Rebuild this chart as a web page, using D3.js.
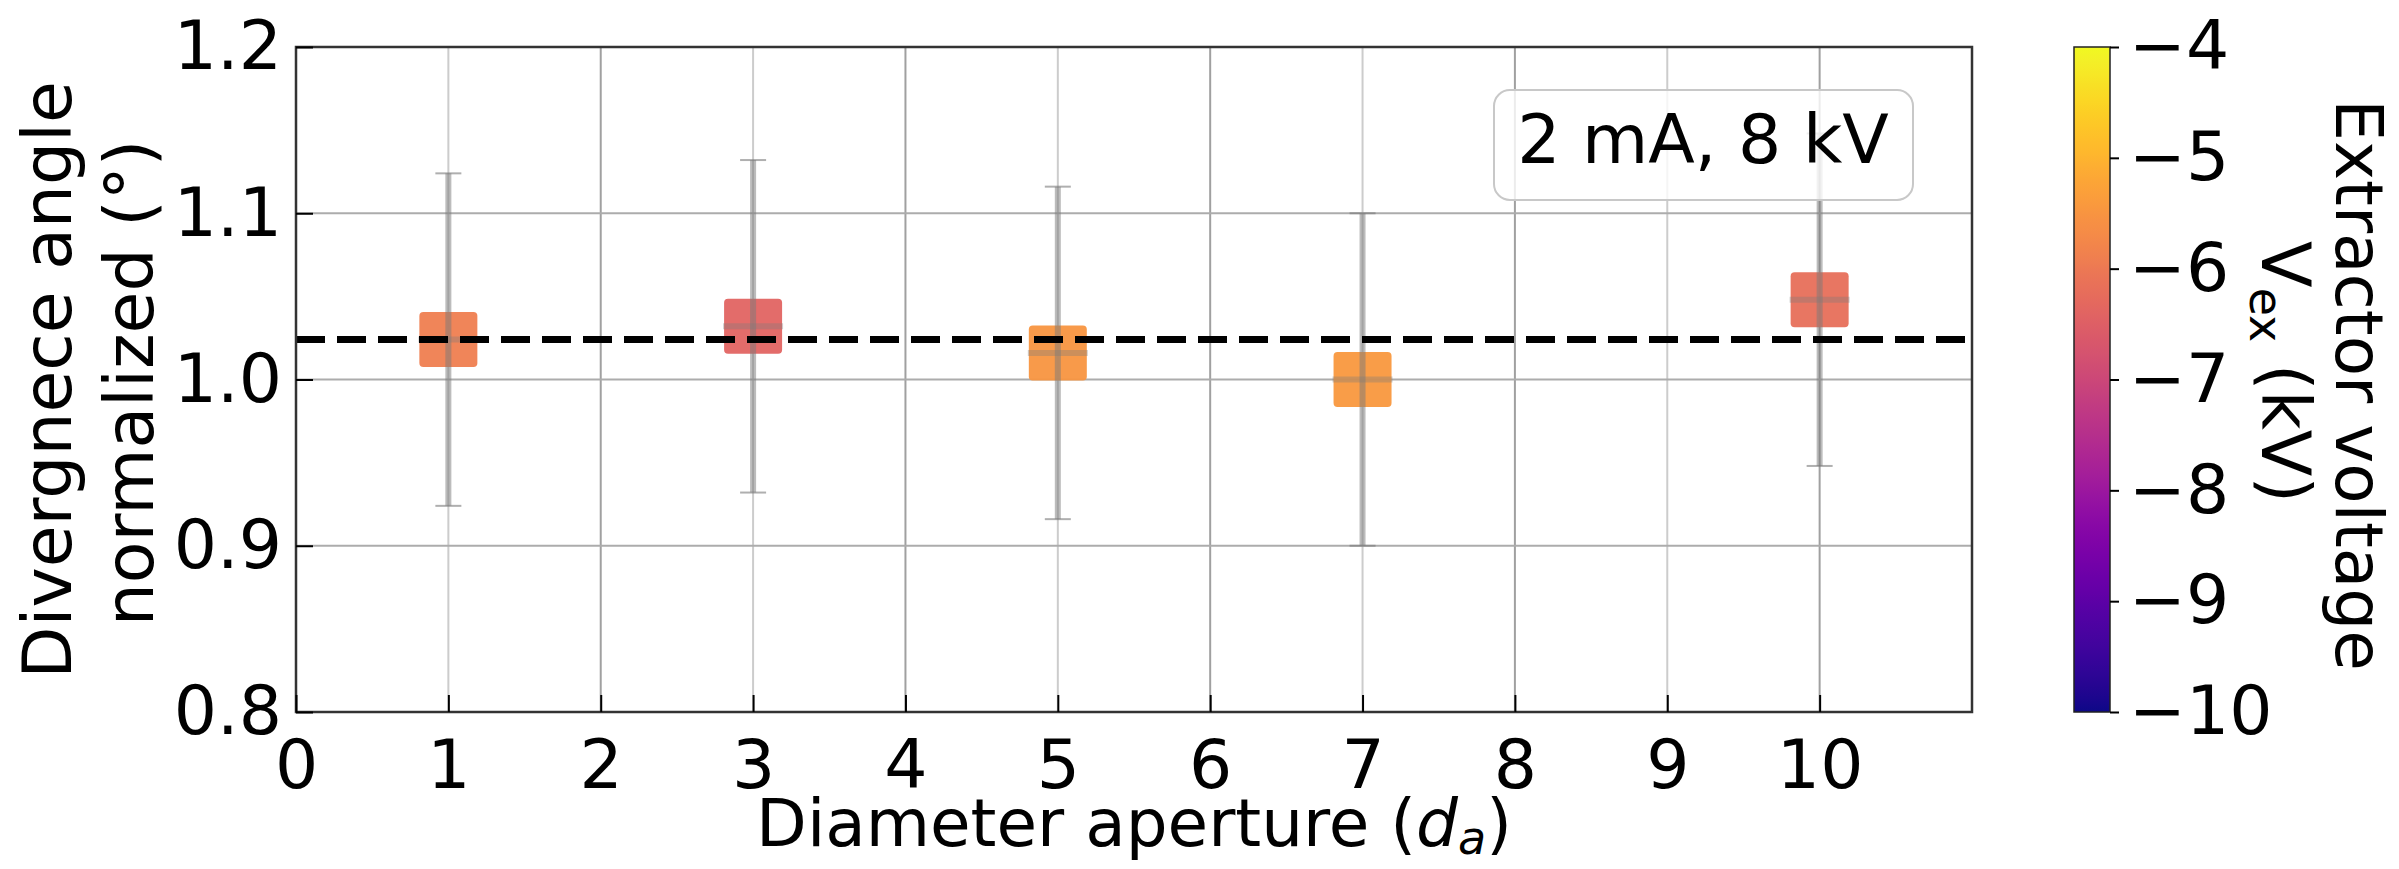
<!DOCTYPE html>
<html><head><meta charset="utf-8">
<script src="https://cdn.jsdelivr.net/npm/d3@7"></script>
<style>
html,body{margin:0;padding:0;background:#fff;}
text{font-family:"DejaVu Sans",sans-serif;fill:#000;}
</style></head>
<body><svg id="c" width="2399" height="869"></svg>
<script>
// ---- data ----
const categories = [1, 3, 5, 7, 10];           // diameter aperture
const values = [1.024, 1.032, 1.016, 1.000, 1.048]; // normalized divergence angle
const errors = [0.1, 0.1, 0.1, 0.1, 0.1];
const vex = [-5.9, -6.4, -5.5, -5.45, -6.2];   // extractor voltage (kV)
const xTicks = [0, 1, 2, 3, 4, 5, 6, 7, 8, 9, 10];
const yTicks = [0.8, 0.9, 1.0, 1.1, 1.2];
const cbTicks = [-4, -5, -6, -7, -8, -9, -10];
const annotation = "2 mA, 8 kV";

const svg = d3.select("#c");
const L = 296, R = 1972, T = 47, B = 712;
const x = d3.scaleLinear().domain([0, 11]).range([L, R]);
const y = d3.scaleLinear().domain([0.8, 1.2]).range([B, T]);
const cb = d3.scaleLinear().domain([-10, -4]).range([B, T]);
const color = v => d3.interpolatePlasma((v + 10) / 6);
const FS = 68;

// grid
const g = svg.append("g");
g.selectAll(".gx").data(xTicks).join("line")
  .attr("x1", d => x(d)).attr("x2", d => x(d)).attr("y1", T).attr("y2", B)
  .attr("stroke", d => d % 2 === 0 ? "#a0a0a0" : "#cccccc").attr("stroke-width", 2);
g.selectAll(".gy").data(yTicks).join("line")
  .attr("x1", L).attr("x2", R).attr("y1", d => y(d)).attr("y2", d => y(d))
  .attr("stroke", "#acacac").attr("stroke-width", 2);

// markers
const pts = categories.map((c, i) => ({c, v: values[i], e: errors[i], k: vex[i]}));
const ms = 58, mh = 55;
svg.append("g").selectAll("rect").data(pts).join("rect")
  .attr("x", d => x(d.c) - ms / 2).attr("y", d => y(d.v) - mh / 2)
  .attr("width", ms).attr("height", mh).attr("rx", 4)
  .attr("fill", d => color(d.k)).attr("fill-opacity", 0.95);

// error bars
const eb = svg.append("g").attr("stroke", "#7a7a7a");
eb.selectAll(".v").data(pts).join("line")
  .attr("x1", d => x(d.c)).attr("x2", d => x(d.c))
  .attr("y1", d => y(d.v - d.e)).attr("y2", d => y(d.v + d.e))
  .attr("stroke-width", 6).attr("stroke-opacity", 0.5);
eb.selectAll(".h").data(pts).join("line")
  .attr("x1", d => x(d.c) - 30).attr("x2", d => x(d.c) + 30)
  .attr("y1", d => y(d.v)).attr("y2", d => y(d.v))
  .attr("stroke-width", 6).attr("stroke-opacity", 0.35);
eb.selectAll(".cap").data(pts.flatMap(d => [d.v - d.e, d.v + d.e].map(v => ({c: d.c, v})))).join("line")
  .attr("x1", d => x(d.c) - 13).attr("x2", d => x(d.c) + 13)
  .attr("y1", d => y(d.v)).attr("y2", d => y(d.v))
  .attr("stroke-width", 2).attr("stroke-opacity", 0.6);

// mean dashed line
const meanV = d3.mean(values);
svg.append("line").attr("x1", L).attr("x2", R).attr("y1", y(meanV)).attr("y2", y(meanV))
  .attr("stroke", "#000").attr("stroke-width", 7).attr("stroke-dasharray", "29,12");

// annotation box
svg.append("rect").attr("x", 1494).attr("y", 90).attr("width", 419).attr("height", 110)
  .attr("rx", 16).attr("fill", "#fff").attr("fill-opacity", 0.8)
  .attr("stroke", "#c8c8c8").attr("stroke-width", 2);
svg.append("text").attr("x", 1703).attr("y", 163).attr("text-anchor", "middle")
  .attr("font-size", FS).text(annotation);

// frame
svg.append("rect").attr("x", L).attr("y", T).attr("width", R - L).attr("height", B - T)
  .attr("fill", "none").attr("stroke", "#333").attr("stroke-width", 2.5);

// axes (inward ticks)
const xAxis = d3.axisBottom(x).tickValues(xTicks).tickSize(-17).tickPadding(28).tickFormat(d3.format("d"));
const gx = svg.append("g").attr("transform", `translate(0,${B})`).call(xAxis);
gx.select(".domain").remove();
gx.selectAll("line").attr("stroke", "#000").attr("stroke-width", 2);
gx.selectAll("text").attr("font-size", FS).attr("font-family", "DejaVu Sans").attr("fill", "#000");

const yAxis = d3.axisLeft(y).tickValues(yTicks).tickSize(-17).tickPadding(14).tickFormat(d3.format(".1f"));
const gy = svg.append("g").attr("transform", `translate(${L},0)`).call(yAxis);
gy.select(".domain").remove();
gy.selectAll("line").attr("stroke", "#000").attr("stroke-width", 2);
gy.selectAll("text").attr("font-size", FS).attr("font-family", "DejaVu Sans").attr("fill", "#000");

// axis titles
const xt = svg.append("text").attr("x", x(5.5)).attr("y", 846).attr("text-anchor", "middle").attr("font-size", 66);
xt.append("tspan").text("Diameter aperture (");
xt.append("tspan").attr("font-style", "italic").text("d");
xt.append("tspan").attr("font-style", "italic").attr("font-size", 46).attr("dy", 8).text("a");
xt.append("tspan").attr("dy", -8).text(")");

svg.append("text").attr("transform", "translate(71,380) rotate(-90)").attr("text-anchor", "middle")
  .attr("font-size", FS).text("Divergnece angle");
svg.append("text").attr("transform", "translate(153,383) rotate(-90)").attr("text-anchor", "middle")
  .attr("font-size", FS).text("normalized (°)");

// colorbar
const CBX = 2074, CBW = 36;
const grad = svg.append("defs").append("linearGradient").attr("id", "plasma")
  .attr("x1", 0).attr("y1", 1).attr("x2", 0).attr("y2", 0);
d3.range(0, 1.0001, 0.02).forEach(t => grad.append("stop").attr("offset", t).attr("stop-color", d3.interpolatePlasma(t)));
svg.append("rect").attr("x", CBX).attr("y", T).attr("width", CBW).attr("height", B - T)
  .attr("fill", "url(#plasma)").attr("stroke", "#222").attr("stroke-width", 1.5);
const cbAxis = d3.axisRight(cb).tickValues(cbTicks).tickSize(9).tickPadding(10).tickFormat(d => "\u2212" + Math.abs(d));
const gc = svg.append("g").attr("transform", `translate(${CBX + CBW},0)`).call(cbAxis);
gc.select(".domain").remove();
gc.selectAll("line").attr("stroke", "#000").attr("stroke-width", 2);
gc.selectAll("text").attr("font-size", FS).attr("font-family", "DejaVu Sans").attr("fill", "#000");

svg.append("text").attr("transform", "translate(2336,385) rotate(90)").attr("text-anchor", "middle")
  .attr("font-size", 66).text("Extractor voltage");
const vt = svg.append("text").attr("transform", "translate(2262,372) rotate(90)").attr("text-anchor", "middle")
  .attr("font-size", FS);
vt.append("tspan").text("V");
vt.append("tspan").attr("font-size", 46).attr("dy", 12).text("ex");
vt.append("tspan").attr("dy", -12).text(" (kV)");
</script></body></html>
